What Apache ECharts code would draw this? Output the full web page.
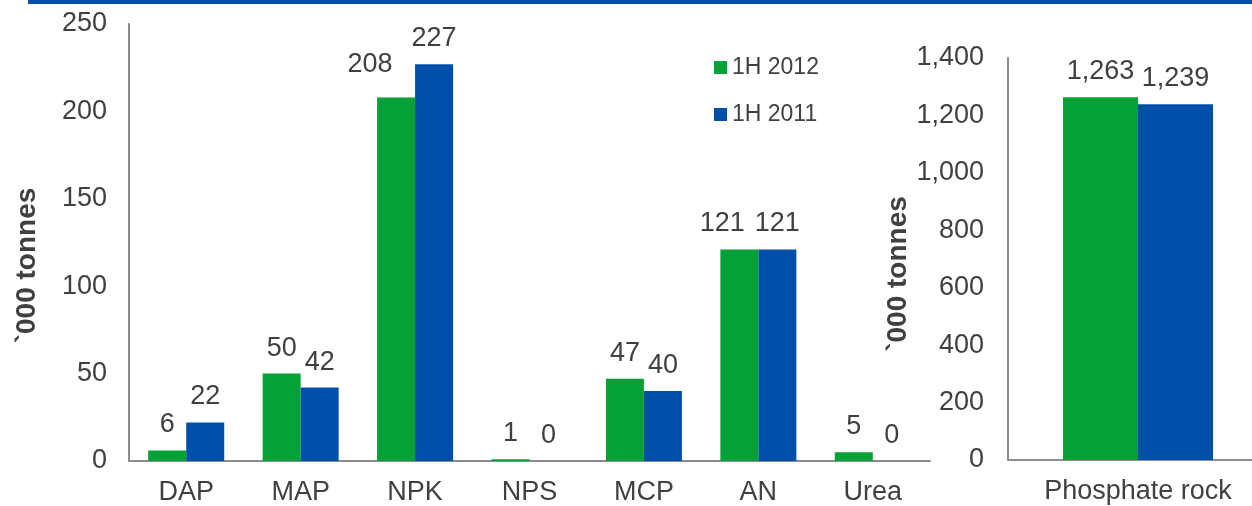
<!DOCTYPE html>
<html>
<head>
<meta charset="utf-8">
<script src="https://cdn.jsdelivr.net/npm/echarts@6/dist/echarts.min.js"></script>
<style>html,body{margin:0;padding:0;background:#fff}#c{width:1252px;height:506px}</style>
</head>
<body>
<div id="c"></div>
<script>
var categories = ['DAP', 'MAP', 'NPK', 'NPS', 'MCP', 'AN', 'Urea'];
var h2012 = [6, 50, 208, 1, 47, 121, 5];
var h2011 = [22, 42, 227, 0, 40, 121, 0];
var rockCategories = ['Phosphate rock'];
var rock2012 = [1263];
var rock2011 = [1239];
var seriesNames = ['1H 2012', '1H 2011'];
var axisName = '`000 tonnes';

var GREEN = '#06A038', BLUE = '#0050AB', TXT = '#404040', AX = '#8c8c8c';
var FONT = '"Liberation Sans", Arial, sans-serif';
function comma(v) { return String(v).replace(/\B(?=(\d{3})+(?!\d))/g, ','); }

// manually moved data labels (by category index) in the green series
var greenLabelShift = { 2: [-26, -7], 5: [-17, 0] };
function withShift(values, shift) {
  return values.map(function (v, i) {
    return shift[i] ? { value: v, label: { offset: shift[i] } } : v;
  });
}

var chart = echarts.init(document.getElementById('c'));
var labelCfg = { show: true, position: 'top', distance: 12, fontSize: 27, color: TXT, fontFamily: FONT,
  formatter: function (p) { return comma(p.value); } };
chart.setOption({
  animation: false,
  textStyle: { fontFamily: FONT },
  graphic: [{ type: 'rect', shape: { x: 28, y: 0, width: 1224, height: 4 }, style: { fill: '#0050AB' } }],
  legend: {
    orient: 'vertical', left: 709, top: 51, itemWidth: 13, itemHeight: 13, itemGap: 24,
    icon: 'rect', data: seriesNames,
    textStyle: { fontSize: 23, color: TXT, fontFamily: FONT }
  },
  grid: [
    { left: 129, top: 24, width: 801, bottom: 44 },
    { left: 1008, top: 58, width: 260, bottom: 46, outerBoundsMode: 'none', containLabel: false }
  ],
  xAxis: [
    { type: 'category', gridIndex: 0, data: categories,
      axisLine: { lineStyle: { color: AX, width: 2 } }, axisTick: { show: false },
      axisLabel: { fontSize: 27, color: TXT, margin: 18 } },
    { type: 'category', gridIndex: 1, data: rockCategories,
      axisLine: { lineStyle: { color: AX, width: 2 } }, axisTick: { show: false },
      axisLabel: { fontSize: 27, color: TXT, margin: 18 } }
  ],
  yAxis: [
    { type: 'value', gridIndex: 0, min: 0, max: 250, interval: 50,
      name: axisName, nameLocation: 'middle', nameRotate: 90, nameGap: 88,
      nameTextStyle: { fontSize: 28, fontWeight: 'bold', color: TXT, padding: [0, 46, 0, 0] },
      axisLine: { show: true, lineStyle: { color: AX, width: 2 } }, axisTick: { show: false },
      splitLine: { show: false },
      axisLabel: { fontSize: 27, color: TXT, margin: 22 } },
    { type: 'value', gridIndex: 1, min: 0, max: 1400, interval: 200,
      name: axisName, nameLocation: 'middle', nameRotate: 90, nameGap: 84,
      nameTextStyle: { fontSize: 28, fontWeight: 'bold', color: TXT, padding: [0, 30, 0, 0] },
      axisLine: { show: true, lineStyle: { color: AX, width: 2 } }, axisTick: { show: false },
      splitLine: { show: false },
      axisLabel: { fontSize: 27, color: TXT, margin: 24, formatter: function (v) { return comma(v); } } }
  ],
  series: [
    { name: seriesNames[0], type: 'bar', xAxisIndex: 0, yAxisIndex: 0, data: withShift(h2012, greenLabelShift),
      barWidth: 38, barGap: '0%', itemStyle: { color: GREEN }, label: labelCfg },
    { name: seriesNames[1], type: 'bar', xAxisIndex: 0, yAxisIndex: 0, data: h2011,
      barWidth: 38, barGap: '0%', itemStyle: { color: BLUE }, label: labelCfg },
    { name: seriesNames[0], type: 'bar', xAxisIndex: 1, yAxisIndex: 1, data: rock2012,
      barWidth: 75, barGap: '0%', itemStyle: { color: GREEN }, label: labelCfg },
    { name: seriesNames[1], type: 'bar', xAxisIndex: 1, yAxisIndex: 1, data: rock2011,
      barWidth: 75, barGap: '0%', itemStyle: { color: BLUE }, label: labelCfg }
  ]
});
</script>
</body>
</html>
